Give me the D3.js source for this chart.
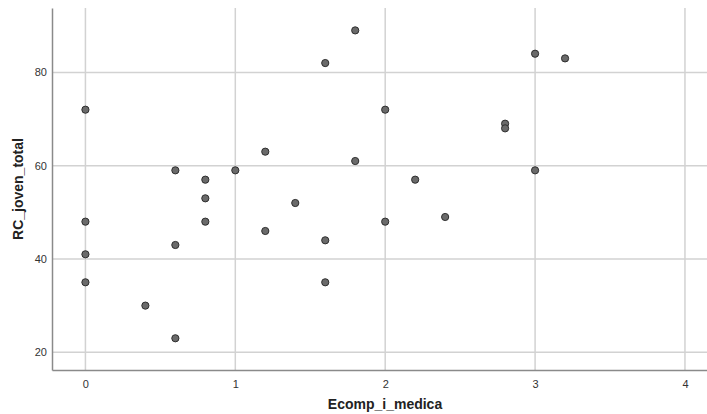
<!DOCTYPE html>
<html>
<head>
<meta charset="utf-8">
<script src="https://cdn.jsdelivr.net/npm/d3@7"></script>
<style>
  body { margin: 0; background: #fff; }
  svg { display: block; font-family: Arial, "Liberation Sans", sans-serif; }
</style>
</head>
<body>
<svg id="chart" width="707" height="414"></svg>
<script>
// Ecomp_i_medica vs RC_joven_total
const ecomp = [0, 0, 0, 0, 0.4, 0.6, 0.6, 0.6, 0.8, 0.8, 0.8, 1, 1.2, 1.2, 1.4,
  1.6, 1.6, 1.6, 1.8, 1.8, 2, 2, 2.2, 2.4, 2.8, 2.8, 3, 3, 3.2];
const rcJoven = [72, 48, 41, 35, 30, 59, 43, 23, 57, 53, 48, 59, 63, 46, 52,
  82, 44, 35, 89, 61, 72, 48, 57, 49, 69, 68, 84, 59, 83];
const xTicks = [0, 1, 2, 3, 4];
const yTicks = [20, 40, 60, 80];

const width = 707, height = 414;
const margin = { top: 8, right: 0, bottom: 44, left: 52 };

const svg = d3.select('#chart');

const x = d3.scaleLinear()
    .domain([-0.223, 4.147])
    .range([margin.left, width - margin.right]);
const y = d3.scaleLinear()
    .domain([16.2, 93.8])
    .range([height - margin.bottom, margin.top]);

// gridlines
svg.append('g')
    .selectAll('line')
    .data(xTicks)
    .join('line')
    .attr('x1', d => x(d)).attr('x2', d => x(d))
    .attr('y1', margin.top).attr('y2', height - margin.bottom)
    .attr('stroke', '#d2d2d2')
    .attr('stroke-width', 1.5);

svg.append('g')
    .selectAll('line')
    .data(yTicks)
    .join('line')
    .attr('x1', margin.left).attr('x2', width - margin.right)
    .attr('y1', d => y(d)).attr('y2', d => y(d))
    .attr('stroke', '#d2d2d2')
    .attr('stroke-width', 1.5);

// axes
const xAxis = svg.append('g')
    .attr('transform', `translate(0,${height - margin.bottom})`)
    .call(d3.axisBottom(x).tickValues(xTicks).tickSize(0).tickPadding(10).tickFormat(d3.format('d')));
const yAxis = svg.append('g')
    .attr('transform', `translate(${margin.left},0)`)
    .call(d3.axisLeft(y).tickValues(yTicks).tickSize(0).tickPadding(5).tickFormat(d3.format('d')));

[xAxis, yAxis].forEach(a => {
    a.select('.domain').attr('stroke', '#8a8a8a').attr('stroke-width', 1.5);
    a.selectAll('text').attr('fill', '#333').style('font-size', '11px');
});

// points
svg.append('g')
    .selectAll('circle')
    .data(ecomp.map((v, i) => [v, rcJoven[i]]))
    .join('circle')
    .attr('cx', d => x(d[0]))
    .attr('cy', d => y(d[1]))
    .attr('r', 3.6)
    .attr('fill', '#6a6a6a')
    .attr('stroke', '#2e2e2e')
    .attr('stroke-width', 1);

// titles
svg.append('text')
    .attr('x', 385)
    .attr('y', 409)
    .attr('text-anchor', 'middle')
    .attr('font-weight', 'bold')
    .attr('font-size', '14px')
    .attr('fill', '#222')
    .text('Ecomp_i_medica');

svg.append('text')
    .attr('transform', `translate(23,${(margin.top + height - margin.bottom) / 2}) rotate(-90)`)
    .attr('text-anchor', 'middle')
    .attr('font-weight', 'bold')
    .attr('font-size', '14px')
    .attr('fill', '#222')
    .text('RC_joven_total');
</script>
</body>
</html>
